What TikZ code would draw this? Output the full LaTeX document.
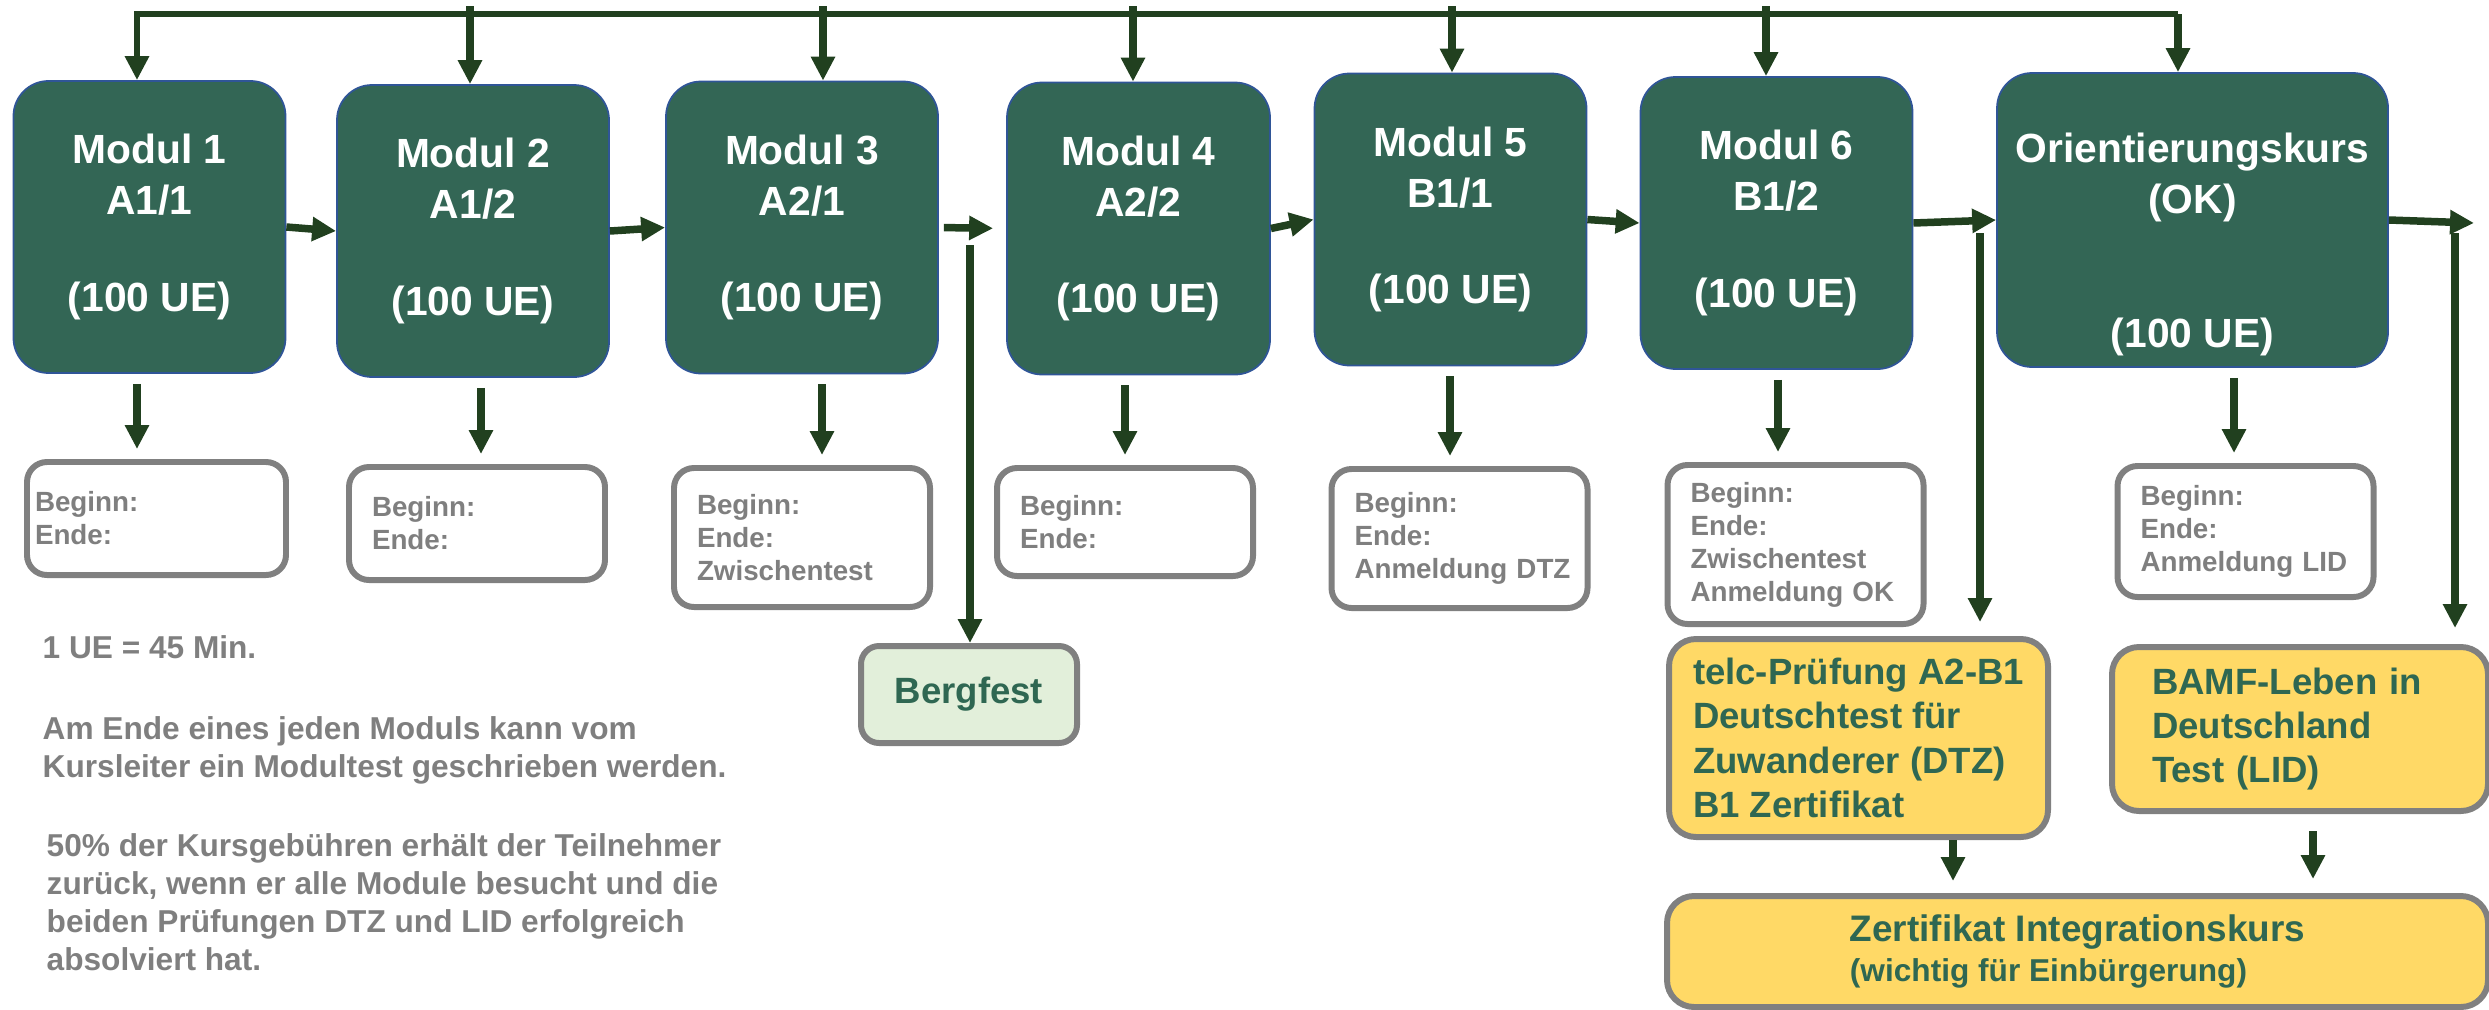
\documentclass[tikz,border=0pt]{standalone}
\usepackage{fontspec}
\setmainfont{Liberation Sans}
\usetikzlibrary{arrows.meta}

\definecolor{modulgruen}{RGB}{51,102,85}
\definecolor{modulrand}{RGB}{47,85,151}
\definecolor{pfeilgruen}{RGB}{33,64,31}
\definecolor{rahmengrau}{RGB}{128,128,128}
\definecolor{textgrau}{RGB}{127,127,127}
\definecolor{hellgruen}{RGB}{226,239,218}
\definecolor{gelb}{RGB}{255,217,102}
\definecolor{textgruen}{RGB}{47,103,82}

\tikzset{
	modul/.style = {draw = modulrand, line width = 0.5pt, fill = modulgruen, rounded corners = 0.35cm, minimum width = 2.72cm, minimum height = 2.92cm, inner sep = 0pt, align = center, text = white, font = \fontsize{11.6}{14.5}\selectfont\bfseries},
	info/.style = {draw = rahmengrau, line width = 1.7pt, rounded corners = 0.2cm, fill = white, text = textgrau, text width = 2.1cm, inner xsep = 0.23cm, inner ysep = 0pt, align = left, font = \fontsize{7.9}{9.4}\selectfont\bfseries},
	festbox/.style = {draw = rahmengrau, line width = 1.7pt, rounded corners = 0.18cm, fill = hellgruen, text = textgruen, inner sep = 0pt, font = \fontsize{10.4}{12}\selectfont\bfseries},
	gelbbox/.style = {draw = rahmengrau, line width = 1.7pt, rounded corners = 0.27cm, fill = gelb, text = textgruen, inner sep = 0pt, align = left, font = \fontsize{10.4}{12.6}\selectfont\bfseries},
	notiz/.style = {text = textgrau, inner sep = 0pt, align = left, font = \fontsize{9}{10.8}\selectfont\bfseries},
	pfeil/.style = {draw = pfeilgruen, line width = 0.075cm, -{Triangle[length = 0.24cm, width = 0.23cm]}}
}

\begin{document}
\begin{tikzpicture}
	\useasboundingbox (0, 0) rectangle (24.89, 10.09);
	
	\node[modul] (m1) at (1.495, 7.82) {Modul 1\\A1/1\\[13pt](100 UE)};
	\node[modul] (m2) at (4.73, 7.78) {Modul 2\\A1/2\\[13pt](100 UE)};
	\node[modul] (m3) at (8.02, 7.815) {Modul 3\\A2/1\\[13pt](100 UE)};
	\node[modul, minimum width = 2.63cm] (m4) at (11.385, 7.805) {Modul 4\\A2/2\\[13pt](100 UE)};
	\node[modul] (m5) at (14.505, 7.895) {Modul 5\\B1/1\\[13pt](100 UE)};
	\node[modul] (m6) at (17.765, 7.86) {Modul 6\\B1/2\\[13pt](100 UE)};
	\node[modul, minimum width = 3.91cm, minimum height = 2.94cm] (ok) at (21.925, 7.89) {\rule{0pt}{22.4pt}Orientierungskurs\\(OK)\\[23.8pt](100 UE)};
	
	\node[info, inner xsep = 0.08cm, text width = 2.43cm, minimum height = 1.13cm] (i1) at (1.565, 4.905) {Beginn:\\Ende:};
	\node[info, minimum height = 1.13cm] (i2) at (4.77, 4.855) {Beginn:\\Ende:};
	\node[info, minimum height = 1.39cm] (i3) at (8.02, 4.715) {Beginn:\\Ende:\\Zwischentest};
	\node[info, minimum height = 1.08cm] (i4) at (11.25, 4.87) {Beginn:\\Ende:};
	\node[info, minimum height = 1.39cm] (i5) at (14.595, 4.705) {Beginn:\\Ende:\\Anmeldung~DTZ};
	\node[info, minimum height = 1.59cm] (i6) at (17.955, 4.645) {Beginn:\\Ende:\\Zwischentest\\Anmeldung~OK};
	\node[info, minimum height = 1.31cm] (i7) at (22.455, 4.775) {Beginn:\\Ende:\\Anmeldung~LID};
	
	\node[festbox, minimum width = 2.16cm, minimum height = 0.97cm] (berg) at (9.69, 3.145) {Bergfest};
	
	\node[gelbbox, minimum width = 3.79cm, minimum height = 1.98cm] (telc) at (18.585, 2.71) {telc-Prüfung A2-B1\\Deutschtest für\\Zuwanderer (DTZ)\\B1 Zertifikat};
	\node[gelbbox, text width = 2.96cm, inner xsep = 0.4cm, minimum height = 1.64cm] (bamf) at (23.00, 2.80) {BAMF-Leben in\\Deutschland\\Test (LID)};
	\node[gelbbox, minimum width = 8.21cm, minimum height = 1.11cm, font = \fontsize{10.5}{11.3}\selectfont\bfseries] (zert) at (20.775, 0.575) {Zertifikat Integrationskurs\\{\fontsize{9}{11.3}\selectfont(wichtig für Einbürgerung)}};
	
	\node[notiz, anchor = base west] (ue) at (0.42, 3.51) {1 UE = 45 Min.};
	\node[notiz, anchor = north west] (modultest) at (0.42, 2.935) {Am Ende eines jeden Moduls kann vom\\Kursleiter ein Modultest geschrieben werden.};
	\node[notiz, anchor = north west] (gebuehr) at (0.46, 1.765) {50\% der Kursgebühren erhält der Teilnehmer\\zurück, wenn er alle Module besucht und die\\beiden Prüfungen DTZ und LID erfolgreich\\absolviert hat.};
	
	\coordinate (t1) at (1.37, 9.95);
	\coordinate (t7) at (21.78, 9.95);
	\draw[pfeil, line width = 0.06cm] (t7) -- (t1) -- (t1 |- m1.north);
	\draw[pfeil] (t7) -- (t7 |- ok.north);
	\foreach \m/\x in {m2/4.70, m3/8.23, m4/11.33, m5/14.52, m6/17.66}
	{
		\coordinate (h) at (\x, 10.03);
		\draw[pfeil] (h) -- (h |- \m.north);
	}
	
	\draw[pfeil] (m1.east) -- (m2.west);
	\draw[pfeil] (m2.east) -- (m3.west);
	\draw[pfeil, shorten <= 0.05cm, shorten >= 0.13cm] (m3.east) -- (m4.west);
	\draw[pfeil] (m4.east) -- (m5.west);
	\draw[pfeil] (m5.east) -- (m6.west);
	\draw[pfeil] (m6.east) -- (ok.west);
	\coordinate (r1) at (24.74, 7.86);
	\draw[pfeil] (ok.east) -- (r1);
	
	\foreach \m/\i/\x in {m1/i1/1.37, m2/i2/4.81, m3/i3/8.22, m4/i4/11.25, m5/i5/14.50, m6/i6/17.78, ok/i7/22.34}
	{
		\coordinate (h) at (\x, 0);
		\draw[pfeil, shorten <= 0.1cm, shorten >= 0.1cm] (\m.south -| h) -- (\i.north -| h);
	}
	
	\coordinate (b0) at (9.70, 7.64);
	\draw[pfeil] (b0) -- (b0 |- berg.north);
	\coordinate (v1) at (19.80, 7.76);
	\draw[pfeil, shorten >= 0.14cm] (v1) -- (v1 |- telc.north);
	\coordinate (v2) at (24.55, 7.76);
	\draw[pfeil, shorten >= 0.16cm] (v2) -- (v2 |- bamf.north);
	
	\coordinate (z1) at (19.53, 0);
	\draw[pfeil, shorten >= 0.12cm] (telc.south -| z1) -- (zert.north -| z1);
	\coordinate (z2) at (23.13, 0);
	\draw[pfeil, shorten <= 0.17cm, shorten >= 0.14cm] (bamf.south -| z2) -- (zert.north -| z2);
\end{tikzpicture}
\end{document}
